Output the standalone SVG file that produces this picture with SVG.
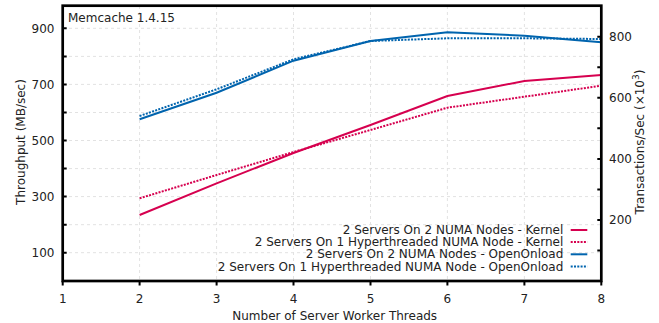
<svg xmlns="http://www.w3.org/2000/svg" width="659" height="323" viewBox="0 0 659 323">
<style>
text{font-family:"DejaVu Sans","Liberation Sans",sans-serif;font-size:12px;fill:#222}
.grid{stroke:#e2e2e2;stroke-width:1;stroke-dasharray:3 3;fill:none}
.tick{stroke:#000;stroke-width:2;fill:none}
.frame{stroke:#000;stroke-width:2.7;fill:none}
.red{stroke:#d6004f;stroke-width:2;fill:none}
.blue{stroke:#0064ae;stroke-width:2;fill:none}
.dot{stroke-dasharray:2 1.3}
.r{text-anchor:end}
.m{text-anchor:middle}
</style>
<rect width="659" height="323" fill="#fff"/>
<g id="grid">
<path class="grid" d="M139.6 6V281M216.6 6V281M293.5 6V281M370.5 6V281M447.4 6V281M524.4 6V281"/>
<path class="grid" d="M63 28.3H601M63 56.4H601M63 84.4H601M63 112.5H601M63 140.5H601M63 168.6H601M63 196.6H601M63 224.7H601M63 252.7H601"/>
</g>
<g id="ticks">
<path class="tick" d="M62.7 28.3h4M62.7 56.4h4M62.7 84.4h4M62.7 112.5h4M62.7 140.5h4M62.7 168.6h4M62.7 196.6h4M62.7 224.7h4M62.7 252.7h4"/>
<path class="tick" d="M601.3 36.7h-4M601.3 67.2h-4M601.3 97.8h-4M601.3 128.3h-4M601.3 158.9h-4M601.3 189.5h-4M601.3 220h-4M601.3 250.5h-4"/>
<path class="tick" d="M62.7 281v4.5M139.6 281v4.5M216.6 281v4.5M293.5 281v4.5M370.5 281v4.5M447.4 281v4.5M524.4 281v4.5M601.3 281v4.5"/>
</g>
<g id="series">
<polyline id="kernel-2numa" class="red" points="139.6,215 216.6,183.3 293.5,153 370.5,125 447.4,96 524.4,81 601.3,75"/>
<polyline id="kernel-1ht" class="red dot" points="139.6,198.3 216.6,175 293.5,152 370.5,130 447.4,107.7 524.4,96.7 601.3,85.7"/>
<polyline id="onload-2numa" class="blue" points="139.6,119.3 216.6,92.7 293.5,60.7 370.5,41 447.4,32.3 524.4,35.7 601.3,42.3"/>
<polyline id="onload-1ht" class="blue dot" points="139.6,116 216.6,89.3 293.5,59.3 370.5,41 447.4,38.3 524.4,38.3 601.3,39"/>
</g>
<rect class="frame" x="62.7" y="5.7" width="538.6" height="275.3"/>
<g id="title"><text x="68" y="21.7">Memcache 1.4.15</text></g>
<g id="left-axis-labels" class="r">
<text class="r" x="54.5" y="32.5">900</text>
<text class="r" x="54.5" y="88.6">700</text>
<text class="r" x="54.5" y="144.7">500</text>
<text class="r" x="54.5" y="200.8">300</text>
<text class="r" x="54.5" y="256.9">100</text>
</g>
<g id="right-axis-labels">
<text x="609" y="40.9">800</text>
<text x="609" y="102">600</text>
<text x="609" y="163.1">400</text>
<text x="609" y="224.2">200</text>
</g>
<g id="x-axis-labels">
<text class="m" x="62.7" y="302.5">1</text>
<text class="m" x="139.6" y="302.5">2</text>
<text class="m" x="216.6" y="302.5">3</text>
<text class="m" x="293.5" y="302.5">4</text>
<text class="m" x="370.5" y="302.5">5</text>
<text class="m" x="447.4" y="302.5">6</text>
<text class="m" x="524.4" y="302.5">7</text>
<text class="m" x="601.3" y="302.5">8</text>
</g>
<text class="m" x="334.7" y="320">Number of Server Worker Threads</text>
<text class="m" transform="translate(25 142) rotate(-90)">Throughput (MB/sec)</text>
<text class="m" transform="translate(644 142) rotate(-90)">Transactions/Sec (×10<tspan dy="-5" font-size="9">3</tspan><tspan dy="5">)</tspan></text>
<g id="legend">
<text class="r" x="563.3" y="234.2">2 Servers On 2 NUMA Nodes - Kernel</text>
<path class="red" d="M570.7 230H587.3"/>
<text class="r" x="563.3" y="246.2">2 Servers On 1 Hyperthreaded NUMA Node - Kernel</text>
<path class="red dot" d="M570.7 242H587.3"/>
<text class="r" x="563.3" y="258.4">2 Servers On 2 NUMA Nodes - OpenOnload</text>
<path class="blue" d="M570.7 254.3H587.3"/>
<text class="r" x="563.3" y="270.6">2 Servers On 1 Hyperthreaded NUMA Node - OpenOnload</text>
<path class="blue dot" d="M570.7 266.5H587.3"/>
</g>
</svg>
